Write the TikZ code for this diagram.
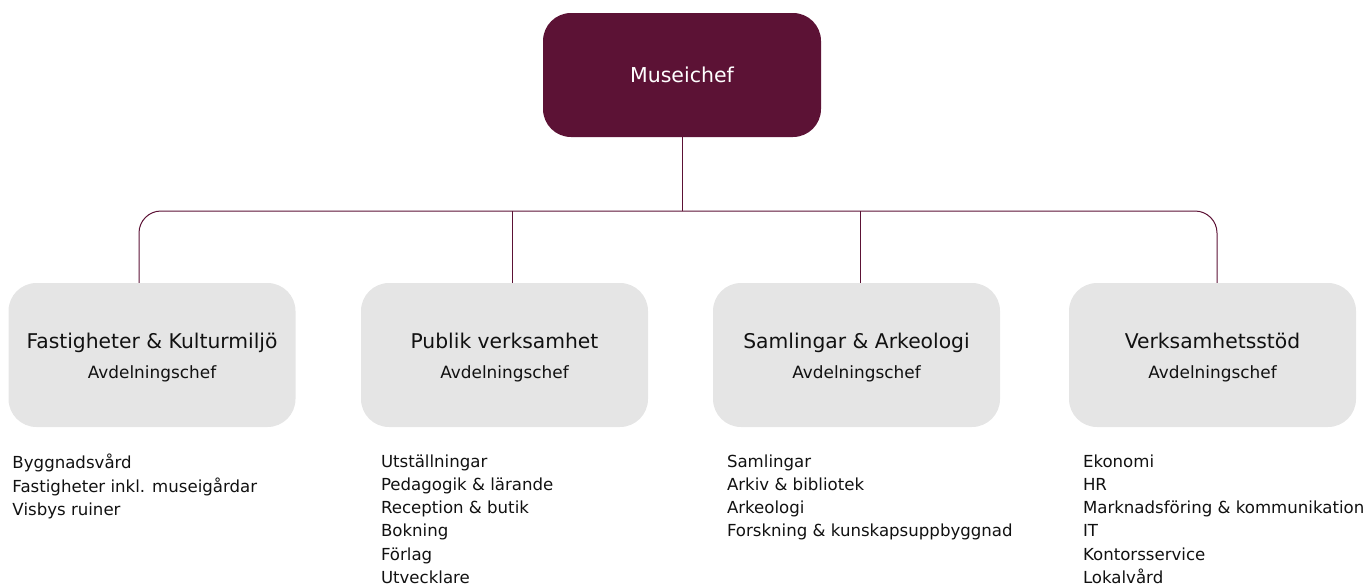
\documentclass[tikz,border=0pt]{standalone}
\usepackage{fontspec}
\setmainfont{DejaVu Sans}
\usetikzlibrary{positioning}

\definecolor{museired}{HTML}{5C1235}
\definecolor{boxgray}{HTML}{E5E5E5}
\definecolor{inkblack}{HTML}{111111}

\tikzset{
  chiefbox/.style={fill=museired, text=white, rounded corners=28pt,
    minimum width=278pt, minimum height=124pt, inner sep=0pt,
    font=\fontsize{20.5}{24}\selectfont},
  deptbox/.style={fill=boxgray, rounded corners=28pt,
    minimum width=287pt, minimum height=144pt, inner sep=0pt},
  depttitle/.style={text=inkblack, inner sep=0pt, align=center,
    font=\fontsize{20.3}{30}\selectfont},
  unitlist/.style={anchor=north west, align=left, inner sep=0pt, text=inkblack,
    font=\fontsize{16.6}{23.25}\selectfont},
  orgline/.style={draw=museired, line width=1pt, rounded corners=22pt}
}

\begin{document}
\begin{tikzpicture}[x=1pt, y=-1pt]
% Parameters
\def\busy{211}
\def\depty{355}

\useasboundingbox (0,0) rectangle (1370,587);

% Top box
\node[chiefbox] (chief) at (682,75) {Museichef};
\coordinate (bus) at (682,\busy);

% Department boxes
\foreach \i/\x/\title in {1/152/{Fastigheter \& Kulturmiljö},
                          2/504.5/{Publik verksamhet},
                          3/856.5/{Samlingar \& Arkeologi},
                          4/1212.5/{Verksamhetsstöd}} {
    \node[deptbox] (dep\i) at (\x,\depty) {};
    \node[depttitle] (title\i) at ([yshift=-3pt]dep\i.center)
        {\title\\{\fontsize{16.9}{30}\selectfont Avdelningschef}};
}

% Connectors
\draw[orgline] (chief.south) -- (bus);
\draw[orgline] (bus) -| ([xshift=-13pt]dep1.north);
\draw[orgline] (bus) -| ([xshift=4.5pt]dep4.north);
\draw[orgline] ([xshift=7.5pt]dep2.north) -- ([xshift=7.5pt]dep2.north |- bus);
\draw[orgline] ([xshift=3.5pt]dep3.north) -- ([xshift=3.5pt]dep3.north |- bus);

% Unit lists
\node[unitlist] (units1) at ([xshift=4pt,yshift=-27pt]dep1.south west)
    {Byggnadsvård\\Fastigheter inkl. museigårdar\\Visbys ruiner};
\node[unitlist] (units2) at ([xshift=20pt,yshift=-27pt]dep2.south west)
    {Utställningar\\Pedagogik \& lärande\\Reception \& butik\\Bokning\\Förlag\\Utvecklare};
\node[unitlist] (units3) at ([xshift=14pt,yshift=-27pt]dep3.south west)
    {Samlingar\\Arkiv \& bibliotek\\Arkeologi\\Forskning \& kunskapsuppbyggnad};
\node[unitlist] (units4) at ([xshift=14pt,yshift=-27pt]dep4.south west)
    {Ekonomi\\HR\\Marknadsföring \& kommunikation\\IT\\Kontorsservice\\Lokalvård};
\end{tikzpicture}
\end{document}
